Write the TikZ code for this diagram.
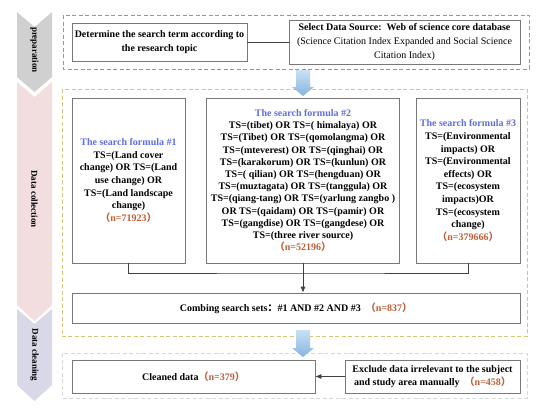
\documentclass[tikz,border=0pt]{standalone}
\usepackage{fontspec}
\setmainfont{Liberation Serif}
\newfontfamily\cjk{Noto Sans CJK SC}
\usetikzlibrary{arrows.meta}
\definecolor{tblue}{RGB}{95,110,225}
\definecolor{ncol}{RGB}{190,95,55}
\definecolor{boxline}{RGB}{120,120,120}
\definecolor{prepdash}{RGB}{150,150,150}
\definecolor{colldash}{RGB}{212,200,120}
\definecolor{cleandash}{RGB}{215,215,218}
\definecolor{chevgray}{RGB}{208,208,208}
\definecolor{chevpink}{RGB}{242,222,222}
\definecolor{chevpurple}{RGB}{216,216,232}
\definecolor{arrtop}{RGB}{200,225,245}
\definecolor{arrbot}{RGB}{135,180,222}
\newcommand{\myLP}{{\cjk （}}
\newcommand{\myRP}{{\cjk ）}}
\newcommand{\myColon}{{\cjk ：}}
\newcommand{\bluearrow}[3]{%
  \shade[top color=arrtop,bottom color=arrbot]
    ({#1-7},#2) -- ({#1+7},#2) -- ({#1+7},{#3-9}) -- ({#1+11},{#3-9})
    -- (#1,#3) -- ({#1-11},{#3-9}) -- ({#1-7},{#3-9}) -- cycle;}
\tikzset{
  box/.style={draw=boxline, line width=0.7pt, fill=white, align=center,
    inner sep=2pt, font=\fontsize{10}{12.6}\selectfont\bfseries},
  chevtext/.style={rotate=-90, font=\fontsize{9}{10}\selectfont\bfseries},
  conn/.style={draw=black!75, line width=0.7pt},
  tipped/.style={conn, -{Latex[length=6pt,width=5pt]}},
}
\begin{document}
\begin{tikzpicture}[x=1pt,y=-1pt]
\useasboundingbox (0,0) rectangle (550,410);
\fill[white] (0,0) rectangle (550,410);
% chevrons
\fill[chevgray] (17,12) -- (34.5,27) -- (52,12) -- (52,77) -- (34.5,92) -- (17,77) -- cycle;
\fill[chevpink] (17,82) -- (34.5,97) -- (52,82) -- (52,305) -- (34.5,321) -- (17,305) -- cycle;
\fill[chevpurple] (17,309) -- (34.5,324) -- (52,309) -- (52,385) -- (34.5,401) -- (17,385) -- cycle;
\node[chevtext] (lprep) at (34.5,50) {preparation};
\node[chevtext] (lcoll) at (34.5,199) {Data collection};
\node[chevtext] (lclean) at (34.5,355) {Data cleaning};
% dashed group frames
\draw[prepdash, line width=0.8pt, dash pattern=on 4pt off 2.5pt] (63,15) rectangle (529,69);
\draw[colldash, line width=0.8pt, dash pattern=on 4pt off 2.5pt] (62,89) rectangle (527,336);
\draw[cleandash, line width=0.8pt, dash pattern=on 4pt off 2.5pt] (62,353) rectangle (527,398);
% blue arrows
\bluearrow{303}{70}{96}
\bluearrow{303}{330}{357}
% preparation boxes
\node[box, minimum width=175pt, minimum height=38pt,
  font=\fontsize{10}{14}\selectfont\bfseries] (det) at (159.5,42)
  {Determine the search term according to\\ the research topic};
\node[box, minimum width=231pt, minimum height=44pt,
  font=\fontsize{10}{13.8}\selectfont\bfseries] (src) at (404.5,42)
  {Select Data Source:\ \ Web of science core database\\
   \mdseries(Science Citation Index Expanded and Social Science\\
   \mdseries Citation Index)};
\draw[conn] (det.east) -- (src.west);
% search formula boxes
\node[box, minimum width=113pt, minimum height=165pt] (f1) at (128.5,180.5)
  {\color{tblue}The search formula \#1\\
   TS=(Land cover\\ change) OR TS=(Land\\ use change) OR\\ TS=(Land landscape\\ change)\\
   \color{ncol}\myLP n=71923\myRP};
\node[box, minimum width=193pt, minimum height=165pt,
  font=\fontsize{10}{12.2}\selectfont\bfseries] (f2) at (303,180.5)
  {\color{tblue}The search formula \#2\\
   TS=(tibet) OR TS=( himalaya) OR\\
   TS=(Tibet) OR TS=(qomolangma) OR\\
   TS=(mteverest) OR TS=(qinghai) OR\\
   TS=(karakorum) OR TS=(kunlun) OR\\
   TS=( qilian) OR TS=(hengduan) OR\\
   TS=(muztagata) OR TS=(tanggula) OR\\
   TS=(qiang-tang) OR TS=(yarlung zangbo )\\
   OR TS=(qaidam) OR TS=(pamir) OR\\
   TS=(gangdise) OR TS=(gangdese) OR\\
   TS=(three river source)\\
   \color{ncol}\myLP n=52196\myRP};
\node[box, minimum width=104pt, minimum height=165pt] (f3) at (468,180.5)
  {\color{tblue}The search formula \#3\\
   TS=(Environmental\\ impacts) OR\\ TS=(Environmental\\ effects) OR\\
   TS=(ecosystem\\ impacts)OR\\ TS=(ecosystem\\ change)\\
   \color{ncol}\myLP n=379666\myRP};
% combining
\node[box, minimum width=448pt, minimum height=30pt] (comb) at (296,308)
  {Combing search sets\myColon\#1 AND \#2 AND \#3\ \ {\color{ncol}\myLP n=837\myRP}};
\coordinate (join) at (303,273);
\draw[conn] (f1.south) |- (join) -| (f3.south);
\draw[tipped] (f2.south) -- (f2.south |- comb.north);
% cleaning
\node[box, minimum width=243pt, minimum height=33pt] (clean) at (193.5,376.5)
  {Cleaned data{\color{ncol}\myLP n=379\myRP}};
\node[box, minimum width=175pt, minimum height=33pt,
  font=\fontsize{10}{13.5}\selectfont\bfseries] (excl) at (432.5,376.5)
  {Exclude data irrelevant to the subject\\
   and study area manually\ \ {\color{ncol}\myLP n=458\myRP}};
\draw[tipped] (excl.west) -- (clean.east);
\end{tikzpicture}
\end{document}
